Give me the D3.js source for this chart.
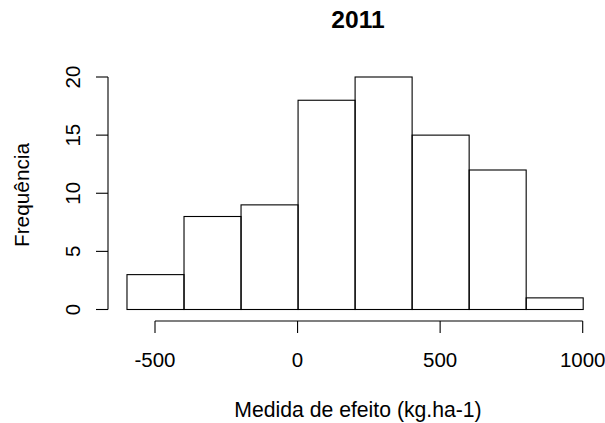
<!DOCTYPE html>
<html><head><meta charset="utf-8">
<script src="https://cdn.jsdelivr.net/npm/d3@7"></script>
<style>body{margin:0;background:#fff}svg{display:block}text{font-family:"Liberation Sans",Arial,sans-serif;fill:#000}</style>
</head><body>
<script>
const binStarts = [-600, -400, -200, 0, 200, 400, 600, 800];
const binWidth = 200;
const counts = [3, 8, 9, 18, 20, 15, 12, 1];
const xTicks = [-500, 0, 500, 1000];
const yTicks = [0, 5, 10, 15, 20];
const title = "2011";
const xLabel = "Medida de efeito (kg.ha-1)";
const yLabel = "Frequência";

const W = 605, H = 423;
const svg = d3.select("body").append("svg").attr("width", W).attr("height", H);
const x = d3.scaleLinear().domain([-500, 1000]).range([155, 582.7]);
const y = d3.scaleLinear().domain([0, 20]).range([309.5, 77]);

svg.selectAll("rect.bar").data(counts).enter().append("rect")
  .attr("x", (d, i) => x(binStarts[i]) + 0.5)
  .attr("width", x(binWidth) - x(0))
  .attr("y", d => y(d))
  .attr("height", d => y(0) - y(d))
  .attr("fill", "none").attr("stroke", "#000").attr("stroke-width", 1.1);

// x axis
const gx = svg.append("g").attr("transform", "translate(0,321)");
gx.append("line").attr("x1", x(xTicks[0])).attr("x2", x(xTicks[xTicks.length-1])).attr("stroke", "#000").attr("stroke-width",1.1);
gx.selectAll("line.t").data(xTicks).enter().append("line")
  .attr("x1", d => x(d)).attr("x2", d => x(d)).attr("y1", 0).attr("y2", 12).attr("stroke", "#000").attr("stroke-width",1.1);
gx.selectAll("text").data(xTicks).enter().append("text")
  .attr("x", d => x(d)).attr("y", 45.5).attr("text-anchor", "middle").attr("font-size", 20.5).text(d => d);

// y axis
const gy = svg.append("g").attr("transform", "translate(108,0)");
gy.append("line").attr("y1", y(0)).attr("y2", y(20)).attr("stroke", "#000").attr("stroke-width",1.1);
gy.selectAll("line.t").data(yTicks).enter().append("line")
  .attr("y1", d => y(d)).attr("y2", d => y(d)).attr("x1", 0).attr("x2", -12).attr("stroke", "#000").attr("stroke-width",1.1);
gy.selectAll("text").data(yTicks).enter().append("text")
  .attr("transform", d => `translate(-28,${y(d)}) rotate(-90)`)
  .attr("text-anchor", "middle").attr("font-size", 20.5).text(d => d);

svg.append("text").attr("x", 358).attr("y", 28).attr("text-anchor", "middle")
  .attr("font-size", 24.6).attr("font-weight", "bold").text(title);
svg.append("text").attr("x", 358).attr("y", 417).attr("text-anchor", "middle")
  .attr("font-size", 21.2).text(xLabel);
svg.append("text").attr("transform", `translate(29,195) rotate(-90)`)
  .attr("text-anchor", "middle").attr("font-size", 20.8).text(yLabel);
</script>
</body></html>
